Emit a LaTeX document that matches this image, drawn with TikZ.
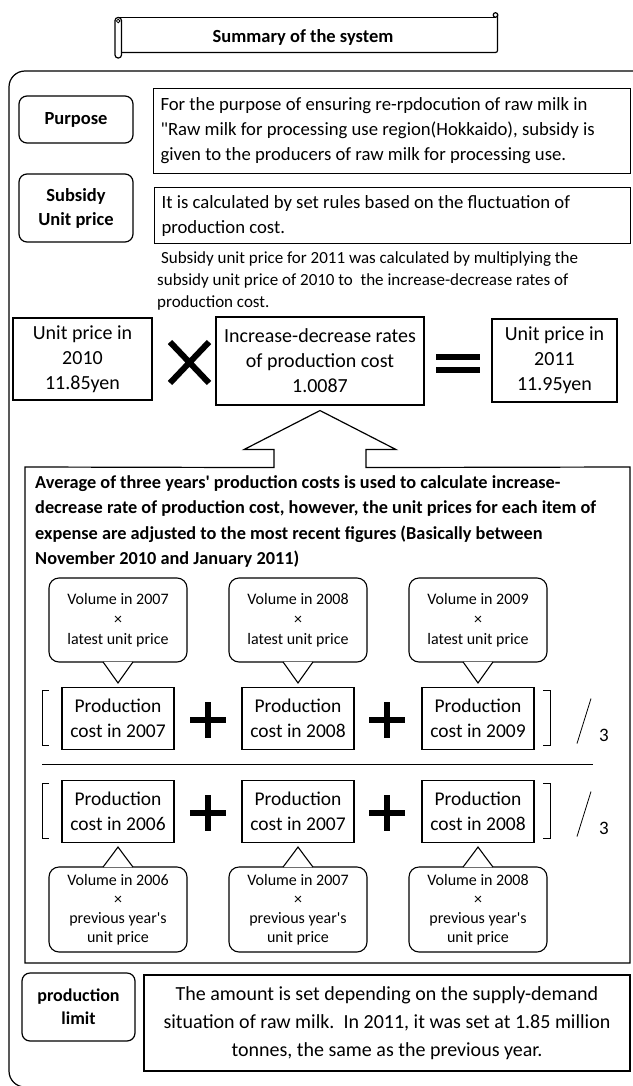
\documentclass[tikz,border=0pt]{standalone}
\usepackage{fontspec}
\setmainfont{Carlito}
\usetikzlibrary{calc}

\begin{document}
\begin{tikzpicture}[x=1pt,y=-1pt,
  frame/.style={line width=1.2pt},
  headbox/.style={draw,line width=1.2pt,rounded corners=8pt,align=center,minimum width=114pt,font=\bfseries\fontsize{18.5}{24}\selectfont},
  txtbox/.style={draw,line width=1.1pt,anchor=north west,align=flush left,inner xsep=7pt,font=\fontsize{18.7}{25}\selectfont},
  valbox/.style={draw,line width=1.1pt,align=center,font=\fontsize{20}{25}\selectfont},
  costbox/.style={draw,line width=1.1pt,align=center,minimum width=112pt,minimum height=62pt,font=\fontsize{19.5}{25}\selectfont},
  bubble/.style={draw,line width=1.1pt,rounded corners=10pt,align=center,minimum width=138pt,minimum height=84pt,font=\fontsize{16}{20}\selectfont},
  opsign/.style={line width=6pt},
  brk/.style={line width=0.8pt}]
\useasboundingbox (0,0) rectangle (632,1086);
\draw[frame] (118,17.5)--(495,17.5);
\draw[frame,rounded corners=2pt] (497.5,15)--(497.5,52.5)--(121.5,52.5);
\draw[frame] (495.5,15) circle (2.3pt);
\draw[frame,rounded corners=3pt] (115,17.5) rectangle (121.5,58);
\draw[line width=0.8pt] (118.2,21) circle (1.8pt);
\node[font=\bfseries\fontsize{18.5}{20}\selectfont] (ttl) at (303,37) {Summary of the system};
\draw[frame,rounded corners=16pt] (9,71) rectangle (660,1087);
\node[headbox,minimum height=47pt] (purp) at (76,119.5) {Purpose};
\node[txtbox,minimum width=477pt,minimum height=85pt,text width=463pt] (purptxt) at (153,88) {For the purpose of ensuring re-rpdocution of raw milk in\\\textquotedbl Raw milk for processing use region(Hokkaido), subsidy is\\given to the producers of raw milk for processing use.};
\node[headbox,minimum height=68pt] (subs) at (76,208) {Subsidy\\Unit price};
\node[txtbox,minimum width=476pt,minimum height=56pt,text width=462pt] (substxt) at (154,187) {It is calculated by set rules based on the fluctuation of\\production cost.};
\node[anchor=north west,inner sep=0pt,align=flush left,font=\fontsize{17}{22}\selectfont] (note) at (157,251) {\ Subsidy unit price for 2011 was calculated by multiplying the\\subsidy unit price of 2010 to\ \ the increase-decrease rates of\\production cost.};
\node[valbox,minimum width=139pt,minimum height=82pt] (u2010) at (82.5,359) {Unit price in\\2010\\11.85yen};
\node[valbox,minimum width=208pt,minimum height=88pt] (incr) at (320,361) {Increase-decrease rates\\of production cost\\1.0087};
\node[valbox,minimum width=125pt,minimum height=83pt] (u2011) at (554.5,360.5) {Unit price in\\2011\\11.95yen};
\draw[opsign] (170,342)--(209,383) (170,383)--(209,342);
\draw[opsign] (436,357)--(480,357) (436,370)--(480,370);
\coordinate (tip) at ($(incr.south)+(0,5)$);
\draw[line width=1.2pt] (tip)--++(76,39)--++(-30,0)--++(0,18)--(630,467)--(630,963)--(25,963)--(25,467)--($(tip)+(-46,57)$)--++(0,-18)--++(-30,0)--cycle;
\node[anchor=north west,inner sep=0pt,align=flush left,font=\bfseries\fontsize{18.3}{25.5}\selectfont] (avgtxt) at (35,475) {Average of three years\textquotesingle\ production costs is used to calculate increase-\\decrease rate of production cost, however, the unit prices for each item of\\expense are adjusted to the most recent figures (Basically between\\November 2010 and January 2011)};
\foreach \x/\ya/\yb/\id in {118/2007/2006/a,298/2008/2007/b,478/2009/2008/c} {
  \node[costbox] (cost\id) at (\x,718.5) {Production\\cost in \ya};
  \node[costbox] (prev\id) at (\x,811.5) {Production\\cost in \yb};
  \node[bubble] (vol\id) at (\x,620) {Volume in \ya\\×\\latest unit price};
  \node[bubble,minimum height=85pt,font=\fontsize{16}{19}\selectfont] (pvol\id) at (\x,909.5) {Volume in \yb\\×\\previous year\textquotesingle s\\unit price};
  \draw[line width=1.1pt,fill=white] ([xshift=-15pt,yshift=.7pt]vol\id.south)--([yshift=4pt]cost\id.north)--([xshift=15pt,yshift=.7pt]vol\id.south);
  \draw[line width=1.1pt,fill=white] ([xshift=-15pt,yshift=-.7pt]pvol\id.north)--([yshift=-4pt]prev\id.south)--([xshift=15pt,yshift=-.7pt]pvol\id.north);
}
\foreach \y/\r in {718.5/a,811.5/b} {
  \foreach \x in {208,387} {\draw[opsign] (\x-18,\y+1.5)--(\x+18,\y+1.5) (\x,\y-16.5)--(\x,\y+19.5);}
  \draw[brk] (49,\y-28)--(42,\y-28)--(42,\y+27)--(49,\y+27);
  \draw[brk] (543,\y-28)--(550,\y-28)--(550,\y+27)--(543,\y+27);
  \draw[brk] (591,\y-20)--(577,\y+25);
  \node[font=\fontsize{19}{20}\selectfont] (three\r) at (604,\y+17) {3};
}
\draw[line width=1pt] (42,764)--(593,764);
\node[headbox,minimum width=113pt,minimum height=68pt,font=\bfseries\fontsize{18}{23}\selectfont] (plim) at (78.5,1007) {production\\limit};
\node[valbox,minimum width=486pt,minimum height=96pt,font=\fontsize{20}{28}\selectfont] (plimtxt) at (387,1023) {The amount is set depending on the supply-demand\\situation of raw milk.\ \ In 2011, it was set at 1.85 million\\tonnes, the same as the previous year.};
\end{tikzpicture}
\end{document}
